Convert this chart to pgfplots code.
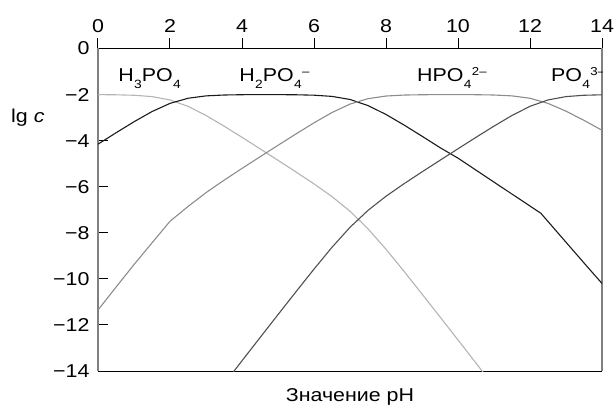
\documentclass[border=0pt]{standalone}
\usepackage{pgfplots}
\pgfplotsset{compat=1.18}
\usepackage{fontspec}
\setmainfont{Liberation Sans}[FakeStretch=1.15]
\definecolor{cA}{HTML}{B4B4B4}
\definecolor{cB}{HTML}{1A1A1A}
\definecolor{cC}{HTML}{8C8C8C}
\definecolor{cD}{HTML}{505050}
\definecolor{frame}{HTML}{808080}
\newcommand\chsub[1]{\hspace{0.4bp}\raisebox{-7bp}{\fontsize{12bp}{12bp}\selectfont #1}}
\newcommand\chsup[1]{\hspace{0.4bp}\raisebox{6bp}{\fontsize{11.5bp}{12bp}\selectfont #1}}
\begin{document}
\begin{tikzpicture}[every node/.style={font=\fontsize{18.6bp}{22bp}\selectfont}]
\begin{axis}[
  scale only axis,
  width=504bp, height=322.5bp,
  xmin=0, xmax=14, ymin=-14, ymax=0,
  separate axis lines,
  x axis line style={black, line width=1bp},
  y axis line style={frame, line width=1.5bp},
  xtick={0,2,...,14},
  ytick={-14,-12,...,0},
  yticklabels={−14,−12,−10,−8,−6,−4,−2,0},
  xtick pos=upper, xticklabel pos=upper,
  ytick pos=lower,
  x tick style={black, line width=1bp},
  y tick style={black, line width=1bp},
  xtick align=outside, ytick align=inside,
  major tick length=10bp,
  /pgf/number format/assume math mode=true,
  tick label style={font=\fontsize{18.6bp}{22bp}\selectfont},
  xticklabel style={yshift=2.5bp},
  yticklabel style={xshift=-5bp},
  clip=true,
]
\coordinate (sw) at (rel axis cs:0,0);
\coordinate (ne) at (rel axis cs:1,1);
% H3PO4
\addplot[cA, line width=1.1bp] coordinates {
(0,-2.003)(0.5,-2.010)(1,-2.030)(1.5,-2.088)(2,-2.233)(2.5,-2.510)(3,-2.907)(3.5,-3.369)(4,-3.856)(4.5,-4.353)(5,-4.853)(5.5,-5.359)(6,-5.877)(6.5,-6.429)(7,-7.063)(7.5,-7.827)(8,-8.714)(8.5,-9.671)(9,-10.657)(9.5,-11.653)(10,-12.653)(10.5,-13.656)(11,-14.669)};
% H2PO4-
\addplot[cB, line width=1.1bp] coordinates {
(0,-4.153)(0.5,-3.660)(1,-3.180)(1.5,-2.738)(2,-2.383)(2.5,-2.160)(3,-2.057)(3.5,-2.019)(4,-2.006)(4.5,-2.003)(5,-2.003)(5.5,-2.009)(6,-2.027)(6.5,-2.079)(7,-2.213)(7.5,-2.477)(8,-2.864)(8.5,-3.321)(9,-3.807)(9.5,-4.303)(10,-4.76)(10.5,-5.28)(11,-5.80)(11.5,-6.32)(12,-6.84)(12.3,-7.15)(13,-8.41)(13.5,-9.31)(14,-10.2)};
% HPO4 2-
\addplot[cC, line width=1.1bp] coordinates {
(0,-11.353)(0.5,-10.360)(1,-9.380)(1.5,-8.438)(2,-7.50)(2.5,-6.860)(3,-6.257)(3.5,-5.719)(4,-5.206)(4.5,-4.703)(5,-4.203)(5.5,-3.709)(6,-3.227)(6.5,-2.779)(7,-2.413)(7.5,-2.177)(8,-2.064)(8.5,-2.021)(9,-2.007)(9.5,-2.003)(10,-2.003)(10.5,-2.006)(11,-2.019)(11.5,-2.057)(12,-2.160)(12.5,-2.383)(13,-2.72)(13.5,-3.12)(14,-3.55)};
% PO4 3-
\addplot[cD, line width=1.1bp] coordinates {
(3,-15.61)(3.5,-14.569)(4,-13.556)(4.5,-12.553)(5,-11.553)(5.5,-10.559)(6,-9.577)(6.5,-8.629)(7,-7.763)(7.5,-7.027)(8,-6.414)(8.5,-5.871)(9,-5.357)(9.5,-4.853)(10,-4.353)(10.5,-3.856)(11,-3.369)(11.5,-2.907)(12,-2.510)(12.5,-2.233)(13,-2.088)(13.5,-2.030)(14,-2.010)};
\node[anchor=base west, inner sep=0pt] at (axis cs:0.56,-1.44) {H\chsub{3}PO\chsub{4}};
\node[anchor=base west, inner sep=0pt] at (axis cs:3.92,-1.44) {H\chsub{2}PO\chsub{4}\chsup{–}};
\node[anchor=base west, inner sep=0pt] at (axis cs:8.86,-1.44) {HPO\chsub{4}\chsup{2–}};
\node[anchor=base west, inner sep=0pt] at (axis cs:12.58,-1.44) {PO\chsub{4}\chsup{3–}};
\coordinate (lgc) at (axis cs:0,-3.23);
\end{axis}
\node[anchor=base, inner sep=0pt] at ([shift={(252bp,-30.5bp)}]sw) {Значение pH};
\node[anchor=base west, inner sep=0pt] at ([xshift=-87bp]lgc) {lg \textit{c}};
\pgfresetboundingbox
\path[use as bounding box] ([shift={(-98bp,-34bp)}]sw) rectangle ([shift={(12bp,48.5bp)}]ne);
\end{tikzpicture}
\end{document}
